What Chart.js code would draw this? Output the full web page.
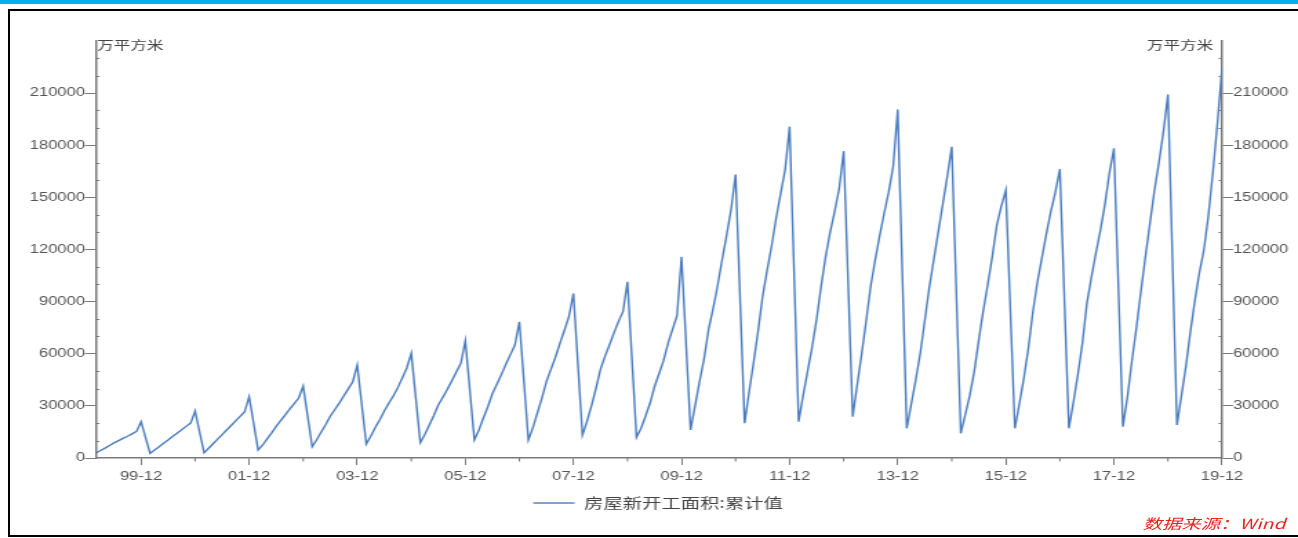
<!DOCTYPE html>
<html>
<head>
<meta charset="utf-8">
<script src="https://cdn.jsdelivr.net/npm/chart.js@4.4.1/dist/chart.umd.min.js"></script>
<style>
  html, body { margin:0; padding:0; background:#fff; }
  body { width:1298px; height:538px; position:relative; overflow:hidden; }
  #topbar { position:absolute; left:0; top:0; width:1298px; height:4px; background:#00b0f0; }
  #frame { position:absolute; left:8px; top:9px; width:1290px; height:528px; border-left:2px solid #000; border-top:2px solid #000; border-bottom:2px solid #000; box-sizing:border-box; }
  #c { position:absolute; left:0; top:0; }
  #source { position:absolute; right:13px; top:513px; font-family:"Noto Sans CJK SC", sans-serif; font-size:14px; font-style:italic; color:#e8231f; transform:scaleX(1.38); transform-origin:right center; white-space:nowrap; }
</style>
</head>
<body>
<div id="topbar"></div>
<div id="frame"></div>
<canvas id="c" width="941" height="538" style="width:1298px;height:538px;"></canvas>
<div id="source">数据来源：Wind</div>
<script>
// ---- data (万平方米), cumulative new housing starts, reported Feb..Dec each year ----
const years = [1999,2000,2001,2002,2003,2004,2005,2006,2007,2008,2009,2010,2011,2012,2013,2014,2015,2016,2017,2018,2019];
const reportMonths = [2,3,4,5,6,7,8,9,10,11,12];
const values = [
  2900, 4300, 5700, 7200, 8700, 10000, 11300, 12500, 13900, 15300, 20900,
  2700, 4600, 6500, 8500, 10400, 12400, 14300, 16200, 18200, 20100, 27000,
  3000, 5600, 8200, 10900, 13500, 16100, 18700, 21400, 24000, 26600, 35300,
  4600, 7500, 11000, 14500, 18200, 21500, 24800, 28100, 31300, 34500, 41400,
  6500, 10500, 15000, 19300, 24000, 27800, 31600, 35700, 39800, 43900, 53500,
  8000, 12500, 17500, 22000, 27000, 31500, 35700, 40500, 46000, 51800, 60200,
  8800, 13500, 19000, 24500, 30500, 35000, 39500, 44500, 49500, 54500, 67500,
  10400, 16000, 23000, 29500, 37000, 42500, 48000, 54000, 59500, 65000, 78400,
  10400, 17500, 26000, 34500, 44000, 51000, 58000, 66000, 73500, 81300, 94700,
  13200, 21000, 30000, 40000, 51000, 58500, 65000, 72000, 78500, 84200, 101400,
  11900, 17000, 24000, 31500, 41000, 48500, 56000, 66000, 74000, 82000, 115800,
  16100, 30000, 44000, 57000, 74000, 86000, 99000, 114000, 128000, 143000, 163200,
  20000, 38000, 55000, 73000, 93000, 108000, 122000, 138000, 152000, 166000, 190700,
  20900, 36000, 50000, 64000, 80000, 99000, 116000, 130000, 142000, 155000, 176600,
  23800, 42000, 60000, 79000, 99000, 114000, 128000, 141000, 153000, 168000, 200600,
  17100, 31000, 45000, 60000, 79000, 98000, 114000, 130000, 146000, 162000, 179100,
  14200, 25000, 36000, 50000, 68000, 85000, 100000, 116000, 134000, 145000, 154200,
  17100, 31000, 46000, 63000, 84000, 101000, 115000, 129000, 142000, 153000, 166300,
  17100, 32000, 48000, 66000, 89000, 104000, 118000, 131000, 146000, 164000, 178200,
  18000, 35000, 56000, 75000, 96000, 116000, 135000, 154000, 170000, 188000, 209200,
  19000, 36000, 53000, 73000, 91000, 107000, 120000, 140000, 165000, 193000, 224000
];
const xTickLabels = ['99-12','01-12','03-12','05-12','07-12','09-12','11-12','13-12','15-12','17-12','19-12'];
const yTicks = [0,30000,60000,90000,120000,150000,180000,210000];
const seriesName = '房屋新开工面积:累计值';
const unitLabel = '万平方米';

// ---- build points: x = months since 1999-01 ----
const baseYear = years[0];
const monthIndex = (y, m) => (y - baseYear) * 12 + (m - 1);
const points = [];
years.forEach((yr, i) => {
  reportMonths.forEach((m, j) => {
    points.push({ x: monthIndex(yr, m), y: values[i * reportMonths.length + j] });
  });
});
const xMin = points[0].x;
const xMax = points[points.length - 1].x;
const decembers = years.map(yr => monthIndex(yr, 12));
const labelFor = v => {
  const yr = baseYear + Math.floor(v / 12);
  const s = String(yr % 100).padStart(2, '0') + '-12';
  return xTickLabels.includes(s) ? s : '';
};
const yMax = 240000;

const axisGray = '#7a7a7a';
const tickFont = { family: '"Liberation Sans", Arial, sans-serif', size: 12 };
const cjkFont = '"Noto Sans CJK SC", "Noto Sans", sans-serif';

const extras = {
  id: 'extras',
  afterDraw(chart) {
    const { ctx, scales: { x, y } } = chart;
    ctx.save();
    ctx.strokeStyle = axisGray;
    ctx.lineWidth = 1;
    ctx.beginPath();
    for (let v = 10000; v < yMax; v += 10000) {
      if (yTicks.includes(v)) continue;
      const py = Math.round(y.getPixelForValue(v)) + 0.5;
      ctx.moveTo(x.left, py); ctx.lineTo(x.left + 2.5, py);
      ctx.moveTo(x.right, py); ctx.lineTo(x.right - 2.5, py);
    }
    decembers.forEach(d => {
      if (labelFor(d)) return;
      const px = x.getPixelForValue(d);
      ctx.moveTo(px, y.bottom); ctx.lineTo(px, y.bottom + 3.5);
    });
    ctx.stroke();
    ctx.fillStyle = '#444';
    ctx.font = '12px ' + cjkFont;
    ctx.textBaseline = 'middle';
    ctx.textAlign = 'left';
    ctx.fillText(unitLabel, x.left + 1, y.top + 4);
    ctx.textAlign = 'right';
    ctx.fillText(unitLabel, x.right - 6.5, y.top + 4);
    ctx.restore();
  }
};

const yAxisCommon = {
  type: 'linear',
  min: 0,
  max: yMax,
  afterBuildTicks(s) { s.ticks = yTicks.map(v => ({ value: v })); },
  ticks: { color: '#555', font: tickFont, padding: 0, autoSkip: false, callback: v => String(v) },
  grid: { drawOnChartArea: false, tickLength: 8, tickColor: axisGray, tickWidth: 1 },
  border: { display: true, color: axisGray, width: 1.5 }
};

new Chart(document.getElementById('c'), {
  type: 'line',
  data: {
    datasets: [{
      label: seriesName,
      data: points,
      borderColor: '#4a7cbf',
      backgroundColor: '#4a7cbf',
      borderWidth: 1.4,
      pointRadius: 0,
      tension: 0,
      fill: false,
      yAxisID: 'y'
    }]
  },
  options: {
    responsive: false,
    animation: false,
    devicePixelRatio: 1,
    layout: { padding: { left: 13, right: 0, top: 41, bottom: 18 } },
    plugins: {
      legend: {
        position: 'bottom',
        labels: {
          usePointStyle: true,
          pointStyle: 'line',
          pointStyleWidth: 30,
          padding: 8,
          color: '#444',
          font: { family: cjkFont, size: 14 }
        }
      },
      tooltip: { enabled: false }
    },
    scales: {
      x: {
        type: 'linear',
        min: xMin,
        max: xMax,
        afterBuildTicks(s) { s.ticks = decembers.map(v => ({ value: v })); },
        ticks: { autoSkip: false, maxRotation: 0, color: '#555', font: tickFont, padding: 4, callback: v => labelFor(v) },
        grid: { drawOnChartArea: false, tickLength: 7, tickColor: c => (c.tick && labelFor(c.tick.value)) ? axisGray : 'rgba(0,0,0,0)' },
        border: { display: true, color: axisGray, width: 1.5 },
        afterFit(s) { s.height = 30; }
      },
      y: Object.assign({}, yAxisCommon, { position: 'left', afterFit(s) { s.width = 56.6; } }),
      y2: Object.assign({}, yAxisCommon, { position: 'right', afterFit(s) { s.width = 55.1; } })
    }
  },
  plugins: [extras]
});
</script>
</body>
</html>
